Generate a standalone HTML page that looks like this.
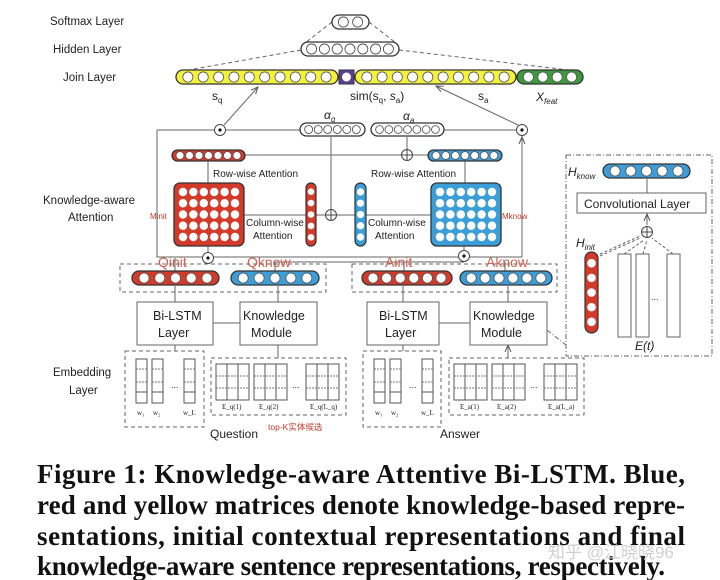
<!DOCTYPE html>
<html><head><meta charset="utf-8"><style>
html,body{margin:0;padding:0;background:#fff}
svg{display:block}
text{font-family:"Liberation Sans","Noto Sans CJK SC",sans-serif;fill:#222}
.s{font-family:"Liberation Serif",serif}
.cap{font-family:"Liberation Serif",serif;font-weight:bold;font-size:27px;fill:#111}
</style></head><body>
<svg id="g" width="720" height="580" viewBox="0 0 720 580" xmlns="http://www.w3.org/2000/svg">
<defs><marker id="ar" markerWidth="8" markerHeight="8" refX="7" refY="4" orient="auto"><path d="M0,1 L7,4 L0,7" fill="none" stroke="#555" stroke-width="1"/></marker></defs>
<g stroke="#666" stroke-width="1" fill="none">
<path d="M332,22 L305,43 M369,22 L396,43 M301,50 L183,71 M399,50 L577,71" stroke-dasharray="4,3"/>
<path d="M157,130 L214,130 M226,130 L300,130 M444,130 L516,130 M157,130 L157,257 L522,257 M522,257 L522,136" />
<path d="M522,257 L522,137" marker-end="url(#ar)"/>
<path d="M224,125 L258,87" marker-end="url(#ar)"/>
<path d="M518,125 L436,86" marker-end="url(#ar)"/>
<path d="M245,155 L428,155 M208,161 L208,183 M465,161 L465,183 M331,137 L331,210 M407,137 L407,150 M244,215 L306,215 M316,215 L355,215 M366,215 L431,215 M208,246 L208,252 M464,246 L464,251"/>
<path d="M175,271 L175,258 M275,271 L275,262 L464,262 M404,271 L404,262 M505,271 L505,262"/>
<path d="M175,302 L175,286 M278,302 L278,286 M403,302 L403,286 M508,302 L508,286 M213,323 L240,323 M439,323 L470,323 M175,351 L175,345 M278,358 L278,345 M403,351 L403,345 M508,358 L508,345" marker-end="url(#ar)"/>
<rect x="137" y="302" width="76" height="43" fill="#fff"/>
<rect x="240" y="302" width="77" height="43" fill="#fff"/>
<rect x="367" y="302" width="72" height="43" fill="#fff"/>
<rect x="470" y="302" width="77" height="43" fill="#fff"/>
<g stroke-dasharray="4,3">
<rect x="120" y="264" width="206" height="28"/>
<rect x="352" y="264" width="205" height="28"/>
<rect x="125" y="351" width="79" height="76"/>
<rect x="211" y="358" width="135" height="57"/>
<rect x="363" y="351" width="78" height="76"/>
<rect x="449" y="358" width="135" height="57"/>
</g>
<rect x="566" y="155" width="146" height="201" stroke-dasharray="5,2,1,2"/>
<path d="M547,330 L566,345" stroke-dasharray="5,2,1,2"/>
<rect x="577" y="193" width="129" height="20" fill="#fff"/>
<path d="M647,193 L647,179 M647,225 L647,214" marker-end="url(#ar)"/>
<path d="M600,254 L640,236 M600,256 L640,238 M624,254 L644,240 M643,254 L647,240 M673,254 L652,238" stroke-dasharray="3,2"/>
<rect x="618" y="254" width="13" height="83"/><rect x="636" y="254" width="13" height="83"/><rect x="667" y="254" width="13" height="83"/>
</g>
<g id="dyn"></g>
<g font-size="11.5">
<text x="50" y="25">Softmax Layer</text>
<text x="53" y="53">Hidden Layer</text>
<text x="63" y="81">Join Layer</text>
<text x="43" y="204">Knowledge-aware</text>
<text x="68" y="221">Attention</text>
<text x="213" y="177" font-size="10">Row-wise Attention</text>
<text x="371" y="177" font-size="10">Row-wise Attention</text>
<text x="246" y="226" font-size="10">Column-wise</text>
<text x="253" y="239" font-size="10">Attention</text>
<text x="368" y="226" font-size="10">Column-wise</text>
<text x="375" y="239" font-size="10">Attention</text>
<text x="150" y="219" font-size="8" style="fill:#c0392b">Minit</text>
<text x="502" y="219" font-size="8" style="fill:#c0392b">Mknow</text>
<text x="158" y="267" font-size="14" style="fill:#d06050">Qinit</text>
<text x="247" y="267" font-size="14" style="fill:#d06050">Qknow</text>
<text x="385" y="267" font-size="14" style="fill:#d06050">Ainit</text>
<text x="486" y="267" font-size="14" style="fill:#d06050">Aknow</text>
<text x="153" y="320" font-size="12.5">Bi-LSTM</text><text x="158" y="337" font-size="12.5">Layer</text>
<text x="243" y="320" font-size="12.5">Knowledge</text><text x="251" y="337" font-size="12.5">Module</text>
<text x="379" y="320" font-size="12.5">Bi-LSTM</text><text x="385" y="337" font-size="12.5">Layer</text>
<text x="473" y="320" font-size="12.5">Knowledge</text><text x="481" y="337" font-size="12.5">Module</text>
<text x="53" y="376">Embedding</text><text x="69" y="394">Layer</text>
<text x="210" y="438" font-size="12">Question</text>
<text x="268" y="430" font-size="8.5" style="fill:#c0392b">top-K实体候选</text>
<text x="440" y="438" font-size="12">Answer</text>
<text x="584" y="208" font-size="12">Convolutional Layer</text>
<text x="171" y="388" font-size="9">...</text><text x="409" y="388" font-size="9">...</text>
<text x="292" y="388" font-size="9">...</text><text x="530" y="388" font-size="9">...</text>
<text x="651" y="300" font-size="9">...</text>
</g>
<g class="s" font-style="italic" font-size="12">
<text x="212" y="100" font-style="normal">s<tspan font-size="8" dy="3">q</tspan></text>
<text x="350" y="100" font-style="normal">sim(s<tspan font-size="8" dy="3">q</tspan><tspan dy="-3">, </tspan><tspan font-style="italic">s</tspan><tspan font-size="8" dy="3">a</tspan><tspan dy="-3">)</tspan></text>
<text x="478" y="100" font-style="normal">s<tspan font-size="8" dy="3">a</tspan></text>
<text x="536" y="101">X<tspan font-size="8" dy="3">feat</tspan></text>
<text x="324" y="119">α<tspan font-size="8" dy="3">q</tspan></text>
<text x="403" y="120">α<tspan font-size="8" dy="3">a</tspan></text>
<text x="568" y="176">H<tspan font-size="8" dy="3">know</tspan></text>
<text x="576" y="247">H<tspan font-size="8" dy="3">init</tspan></text>
<text x="635" y="350">E(t)</text>
</g>
<g>
<text class="cap" x="37" y="483" textLength="648" lengthAdjust="spacing">Figure 1: Knowledge-aware Attentive Bi-LSTM. Blue,</text>
<text class="cap" x="37" y="514" textLength="648" lengthAdjust="spacing">red and yellow matrices denote knowledge-based repre-</text>
<text class="cap" x="37" y="545" textLength="648" lengthAdjust="spacing">sentations, initial contextual representations and final</text>
<text class="cap" x="37" y="575" textLength="628" lengthAdjust="spacing">knowledge-aware sentence representations, respectively.</text>
</g>
<text x="548" y="558" font-size="17" style="fill:#d0d0d0">知乎 @江晓晓96</text>
</svg>
<script>
var NS="http://www.w3.org/2000/svg",D=document.getElementById("dyn");
function el(t,a){var e=document.createElementNS(NS,t);for(var k in a)e.setAttribute(k,a[k]);D.appendChild(e);return e;}
function hbar(x,y,w,h,fill,n,cf){el("rect",{x:x,y:y,width:w,height:h,rx:h/2,fill:fill,stroke:"#333","stroke-width":1.3});
 var r=h*0.36,step=(w-h*0.6)/n;for(var i=0;i<n;i++)el("circle",{cx:x+h*0.3+step*(i+0.5),cy:y+h/2,r:Math.min(r,step*0.42),fill:"#fff",stroke:cf||"#555","stroke-width":0.8});}
function vbar(x,y,w,h,fill,n){el("rect",{x:x,y:y,width:w,height:h,rx:w/2,fill:fill,stroke:"#333","stroke-width":1.2});
 var step=(h-w*0.6)/n;for(var i=0;i<n;i++)el("circle",{cx:x+w/2,cy:y+w*0.3+step*(i+0.5),r:Math.min(w*0.33,step*0.4),fill:"#fff"});}
function mat(x,y,w,h,fill){el("rect",{x:x,y:y,width:w,height:h,rx:6,fill:fill,stroke:"#333","stroke-width":1.3});
 for(var i=0;i<6;i++)for(var j=0;j<5;j++)el("circle",{cx:x+9+i*(w-18)/5,cy:y+9+j*(h-18)/4,r:4.2,fill:"#fff"});}
function op(x,y,t){el("circle",{cx:x,cy:y,r:5.5,fill:"#fff",stroke:"#444","stroke-width":1});
 if(t=="dot")el("circle",{cx:x,cy:y,r:1.6,fill:"#111"});else el("path",{d:"M"+(x-5.5)+","+y+"H"+(x+5.5)+"M"+x+","+(y-5.5)+"V"+(y+5.5),stroke:"#444",fill:"none"});}
var Y="#f5f23c",R="#d43a2a",B="#3c9ed8";
hbar(332,15,37,14,"#fff",2,"#444");
hbar(301,42,98,14,"#fff",7,"#444");
hbar(176,70,162,14,Y,10);
el("rect",{x:339,y:70,width:15,height:14,fill:"#5b3f8f",stroke:"#333"});el("circle",{cx:346.5,cy:77,r:4.5,fill:"#fff"});
hbar(355,70,161,14,Y,10);
hbar(517,70,66,14,"#3d9a3d",4);
hbar(300,123,65,13,"#fff",6,"#444");
hbar(371,123,73,13,"#fff",7,"#444");
op(220,130,"dot");op(522,130,"dot");
hbar(172,150,73,11,R,7);hbar(428,150,74,11,B,7);
op(407,155,"plus");
mat(174,183,70,63,R);mat(431,183,70,63,B);
vbar(306,183,10,63,R,5);vbar(355,183,11,63,B,5);
op(331,215,"plus");
op(208,258,"dot");op(464,256,"dot");
hbar(132,271,87,14,R,5);hbar(231,271,88,14,B,5);
hbar(362,271,90,14,R,6);hbar(460,271,92,14,B,6);
hbar(603,164,87,14,B,5);
op(647,232,"plus");
vbar(585,252,13,81,R,5);
function wc(x,y){el("rect",{x:x,y:y,width:11,height:44,fill:"none",stroke:"#555"});
 el("path",{d:"M"+x+","+(y+10)+"h11M"+x+","+(y+23)+"h11",stroke:"#777","stroke-dasharray":"2,1",fill:"none"});el("path",{d:"M"+x+","+(y+33)+"h11",stroke:"#555",fill:"none"});}
function eb(x,y){el("rect",{x:x,y:y,width:33,height:36,fill:"none",stroke:"#555"});
 el("path",{d:"M"+(x+11)+","+y+"v36M"+(x+22)+","+y+"v36",stroke:"#555",fill:"none"});
 el("path",{d:"M"+x+","+(y+12)+"h33M"+x+","+(y+24)+"h33",stroke:"#777","stroke-dasharray":"2,1",fill:"none"});}
[136,152,184].forEach(function(x){wc(x,359)});[374,390,422].forEach(function(x){wc(x,359)});
[216,254,306].forEach(function(x){eb(x,364)});[454,492,544].forEach(function(x){eb(x,364)});
function t(x,y,s){var e=el("text",{x:x,y:y,"font-size":7,"class":"s"});e.textContent=s;}
t(137,415,"w₁");t(153,415,"w₂");t(183,415,"w_L");t(375,415,"w₁");t(391,415,"w₂");t(421,415,"w_L");
t(222,409,"E_q(1)");t(259,409,"E_q(2)");t(310,409,"E_q(L_q)");t(460,409,"E_a(1)");t(497,409,"E_a(2)");t(548,409,"E_a(L_a)");
</script>
</body></html>
